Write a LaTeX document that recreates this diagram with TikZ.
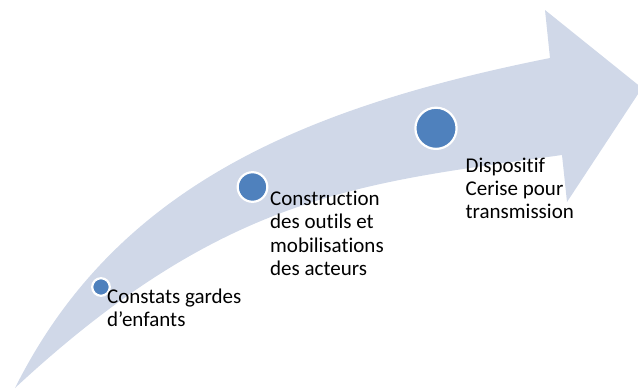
\documentclass[tikz,border=0pt]{standalone}
\usepackage{fontspec}
\setmainfont{Carlito}[Ligatures=NoCommon]
\definecolor{bandfill}{HTML}{D0D8E8}
\definecolor{dotfill}{HTML}{4F81BD}
\begin{document}
\begin{tikzpicture}[x=1pt,y=-1pt,
  dot/.style={circle,fill=dotfill,draw=white,line width=2.2pt,inner sep=0pt},
  label/.style={anchor=base west,inner sep=0pt,align=left,
    font=\fontsize{21}{23.3}\selectfont}]
  \useasboundingbox (0,0) rectangle (638,389);
  \clip (0,0) rectangle (638,389);
  % curved arrow band
  \fill[bandfill] (15,388) .. controls (115,188) and (300,108) .. (550,58)
    -- (545,10) -- (642,88) -- (567,202) -- (562,155)
    .. controls (362,183) and (225,193) .. (15,388) -- cycle;
  % milestones
  \node[dot,minimum size=17.6pt] (d1) at (101,287) {};
  \node[dot,minimum size=29.6pt] (d2) at (252.5,187) {};
  \node[dot,minimum size=41.2pt] (d3) at (436,128.3) {};
  % labels, placed by the baseline of their last line
  \node[label] (t1) at (107,326.3) {Constats gardes\\d’enfants};
  \node[label] (t2) at (270,275.4) {Construction\\des outils et\\mobilisations\\des acteurs};
  \node[label] (t3) at (465.5,218.6) {Dispositif\\Cerise pour\\transmission};
\end{tikzpicture}
\end{document}
